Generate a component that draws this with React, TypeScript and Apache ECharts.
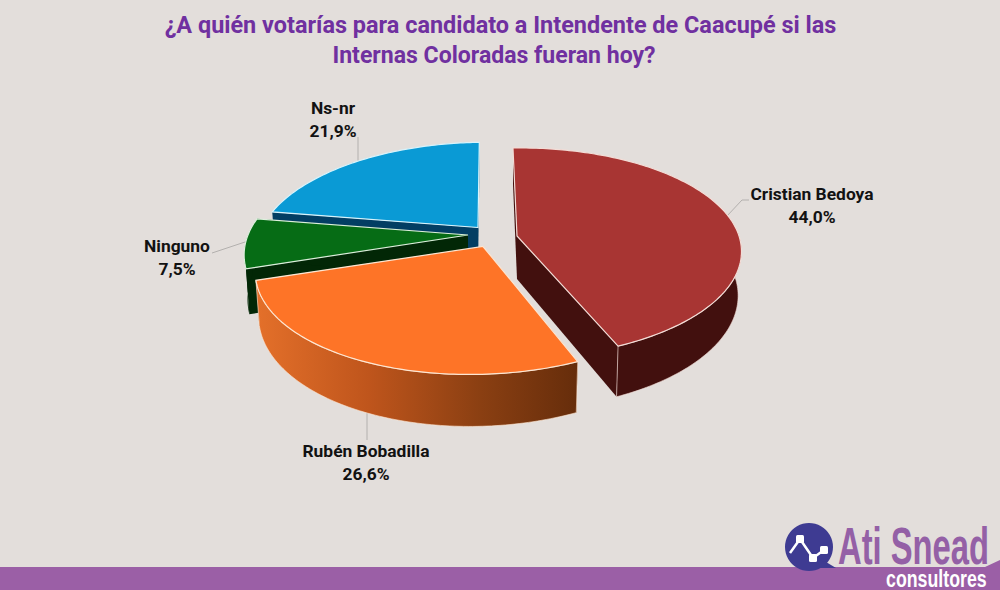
import React, { useEffect, useRef } from "react";
import * as echarts from "echarts";

const titleLines = ["¿A quién votarías para candidato a Intendente de Caacupé si las", "Internas Coloradas fueran hoy?"];
const categories = ["Cristian Bedoya", "Rubén Bobadilla", "Ninguno", "Ns-nr"];
const shares = [44.0, 26.6, 7.5, 21.9];
const paintOrder = [3, 2, 0, 1];

const START_ANGLE = -2;
const BOTTOM_DROP = 43;
const BOTTOM_SX = 0.985;
const BOTTOM_SY = 1.07;

type Look = {
  ax: number; ay: number; shear: number; rx: number; ry: number; k: number;
  top: string; side: string | null; edge: string; wallEdge: boolean;
  lx: number; ly: number; leader: number[][];
};
const looks: Look[] = [
  { ax: 517, ay: 236, shear: -0.03, rx: 222, ry: 102.3, k: 0.162, top: "#a83533", side: "#42100e", edge: "#f3dcd6", wallEdge: true, lx: 812, ly: 194, leader: [[727, 216], [742, 200], [749, 200]] },
  { ax: 483, ay: 246.5, shear: -0.105, rx: 221.5, ry: 104.3, k: 0.185, top: "#fe7427", side: null, edge: "#fde6d2", wallEdge: true, lx: 366, ly: 451, leader: [[367, 412], [367, 440]] },
  { ax: 468, ay: 235, shear: 0, rx: 220, ry: 104.3, k: 0.185, top: "#066c15", side: "#022706", edge: "#dcefdc", wallEdge: false, lx: 177, ly: 246, leader: [[245, 242], [212, 253]] },
  { ax: 478, ay: 227.5, shear: -0.09, rx: 216, ry: 101, k: 0.185, top: "#0a9ad5", side: "#033e63", edge: "#d8f3fb", wallEdge: false, lx: 333, ly: 108, leader: [[358, 137], [358, 162]] },
];

function topPoint(deg: number, lk: Look): number[] {
  const t = (deg * Math.PI) / 180;
  const u = Math.sin(t);
  const v = -Math.cos(t);
  const w = 1 - lk.k * v;
  const Y = (lk.ry * v) / w;
  const X = (lk.rx * u) / w + lk.shear * Y;
  return [X, Y];
}
const onTop = (p: number[], lk: Look) => [lk.ax + p[0], lk.ay + p[1]];
const onBottom = (p: number[], lk: Look) => [lk.ax + p[0] * BOTTOM_SX, lk.ay + BOTTOM_DROP + p[1] * BOTTOM_SY];

function arcAngles(a: number, b: number): number[] {
  const out: number[] = [];
  const n = Math.max(2, Math.ceil(Math.abs(b - a)));
  for (let i = 0; i <= n; i++) out.push(a + ((b - a) * i) / n);
  return out;
}

function renderSlice(_params: any, api: any) {
  const idx = api.value(1) as number;
  const lk = looks[idx];
  let before = 0;
  for (let i = 0; i < idx; i++) before += shares[i];
  const a0 = START_ANGLE + (before / 100) * 360;
  const a1 = a0 + (api.value(0) / 100) * 360;
  const rim = arcAngles(a0, a1).map((d) => topPoint(d, lk));
  const apex = [0, 0];
  const topArc = rim.map((p) => onTop(p, lk));
  const botArc = rim.map((p) => onBottom(p, lk));
  const wa0 = Math.max(a0, 88);
  const wa1 = Math.min(a1, 272);
  const sideFill: any = lk.side
    ? lk.side
    : new echarts.graphic.LinearGradient(0, 0, 1, 0, [
        { offset: 0, color: "#e4702a" },
        { offset: 0.35, color: "#bf551c" },
        { offset: 0.7, color: "#8a3f12" },
        { offset: 1, color: "#662d0b" },
      ]);
  const wallStyle = lk.wallEdge
    ? { fill: sideFill, stroke: lk.edge, lineWidth: 0.8, strokeOpacity: 0.8 }
    : { fill: sideFill };
  const plainStyle = { fill: lk.side ?? "#662d0b" };
  const pct = api.value(0).toFixed(1).replace(".", ",") + "%";
  const labelFont = "bold 17.4px Roboto";
  const children: any[] = [
    { type: "polyline", shape: { points: lk.leader }, style: { fill: "none", stroke: "#b3b0ae", lineWidth: 1 } },
    { type: "polygon", shape: { points: [onTop(apex, lk), topArc[0], botArc[0], onBottom(apex, lk)] }, style: plainStyle },
    { type: "polygon", shape: { points: [onTop(apex, lk), topArc[topArc.length - 1], botArc[botArc.length - 1], onBottom(apex, lk)] }, style: plainStyle },
  ];
  if (wa1 > wa0) {
    const wallRim = arcAngles(wa0, wa1).map((d) => topPoint(d, lk));
    const wallTop = wallRim.map((p) => onTop(p, lk));
    const wallBot = wallRim.map((p) => onBottom(p, lk));
    children.push({ type: "polygon", shape: { points: [...wallTop, ...wallBot.slice().reverse()] }, style: wallStyle });
  }
  children.push(
    { type: "polygon", shape: { points: [onTop(apex, lk), ...topArc] }, style: { fill: lk.top, stroke: lk.edge, lineWidth: 1.2 } },
    { type: "text", style: { x: lk.lx, y: lk.ly, text: categories[idx], fill: "#121212", font: labelFont, align: "center", verticalAlign: "middle" } },
    { type: "text", style: { x: lk.lx, y: lk.ly + 23, text: pct, fill: "#121212", font: labelFont, align: "center", verticalAlign: "middle" } },
  );
  return { type: "group", children };
}

export default function App() {
  const ref = useRef<HTMLDivElement>(null);
  useEffect(() => {
    const chart = echarts.init(ref.current!, undefined, { renderer: "svg" });
    const titleStyle = { color: "#7030a0", fontFamily: "Roboto", fontWeight: "bold", fontSize: 23.45, lineHeight: 30 };
    chart.setOption({
      animation: false,
      backgroundColor: "#e3dedb",
      title: [
        { text: titleLines[0], left: 495.5, top: 5, textAlign: "center", textStyle: titleStyle },
        { text: titleLines[1], left: 489, top: 35, textAlign: "center", textStyle: { ...titleStyle, fontSize: 23.05 } },
      ],
      series: [
        {
          type: "custom",
          coordinateSystem: "none",
          renderItem: renderSlice,
          data: paintOrder.map((i) => ({ name: categories[i], value: [shares[i], i] })),
        },
      ],
      graphic: [
        { type: "polygon", shape: { points: [[0, 567], [985, 567], [1000, 560], [1000, 590], [0, 590]] }, style: { fill: "#9b5fa6" } },
        { type: "circle", shape: { cx: 809, cy: 547, r: 24 }, style: { fill: "#3e3b92" } },
        { type: "polygon", shape: { points: [[818, 560], [826, 562], [836, 568], [820, 568]] }, style: { fill: "#3e3b92" } },
        { type: "polyline", shape: { points: [[790, 553], [800, 539], [813, 558], [824, 550]] }, style: { fill: "none", stroke: "#ffffff", lineWidth: 2.5 } },
        { type: "rect", shape: { x: 796, y: 535, width: 8, height: 8, r: 1.5 }, style: { fill: "#ffffff" } },
        { type: "rect", shape: { x: 809, y: 554, width: 8, height: 8, r: 1.5 }, style: { fill: "#ffffff" } },
        { type: "rect", shape: { x: 820, y: 546, width: 8, height: 8, r: 1.5 }, style: { fill: "#ffffff" } },
        {
          type: "text", x: 838, y: 546, scaleX: 0.63,
          style: { text: "Ati Snead", x: 0, y: 0, fill: "#9460a6", font: 'bold 52px "Liberation Sans"', align: "left", verticalAlign: "middle" },
        },
        {
          type: "text", x: 886, y: 578, scaleX: 0.74,
          style: { text: "consultores", x: 0, y: 0, fill: "#ffffff", font: 'bold 24px "Liberation Sans"', align: "left", verticalAlign: "middle" },
        },
      ],
    });
    return () => chart.dispose();
  }, []);
  return <div ref={ref} style={{ position: "absolute", left: 0, top: 0, width: 1000, height: 590 }} />;
}
